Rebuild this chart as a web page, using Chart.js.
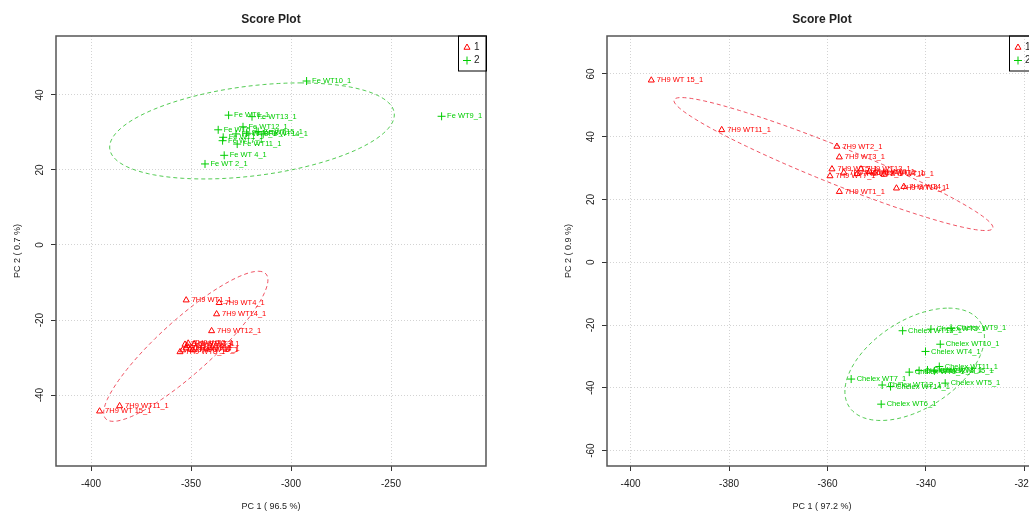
<!DOCTYPE html>
<html>
<head>
<meta charset="utf-8">
<title>Score Plot</title>
<script src="https://cdn.jsdelivr.net/npm/chart.js@4.4.1/dist/chart.umd.min.js"></script>
<style>
  html, body { margin: 0; padding: 0; background: #fff; overflow: hidden; }
  body { width: 1029px; height: 513px; position: relative; }
  .panel { position: absolute; top: 0; width: 514px; height: 513px; }
  #panelFe { left: 0; }
  #panelChelex { left: 551px; }
</style>
</head>
<body>
<div class="panel" id="panelFe"><canvas id="scoreFe"></canvas></div>
<div class="panel" id="panelChelex"><canvas id="scoreChelex"></canvas></div>
<script>
  // -------------------------
  // Data: 7H9 vs Fe
  // -------------------------
  const feXRange = [-417.5, -202.5];
  const feYRange = [-58.9, 55.7];
  const feXTicks = [-400, -350, -300, -250];
  const feYTicks = [-40, -20, 0, 20, 40];
  const feXTitle = "PC 1 ( 96.5 %)";
  const feYTitle = "PC 2 ( 0.7 %)";

  const fe7h9Names = ["7H9 WT1_1", "7H9 WT2_1", "7H9 WT3_1", "7H9 WT4_1", "7H9 WT5_1", "7H9 WT6_1", "7H9 WT7_1", "7H9 WT8_1",
    "7H9 WT9_1", "7H9 WT10_1", "7H9 WT11_1", "7H9 WT12_1", "7H9 WT13_1", "7H9 WT14_1", "7H9 WT 15_1"];
  const fe7h9X = [-352.4, -351.4, -348.5, -335.9, -351.9, -349.0, -354.2, -355.5, -352.5, -350.5, -385.7, -339.7, -353.0, -337.2, -395.7];
  const fe7h9Y = [-14.7, -26.2, -26.4, -15.4, -26.9, -28.0, -28.0, -28.5, -27.5, -27.8, -42.9, -22.9, -26.5, -18.4, -44.3];

  const feIronNames = ["Fe WT1_1", "Fe WT 2_1", "Fe WT3_1", "Fe WT 4_1", "Fe WT5_1", "Fe WT6_1", "Fe WT7_1", "Fe WT8_1",
    "Fe WT9_1", "Fe WT10_1", "Fe WT11_1", "Fe WT12_1", "Fe WT13_1", "Fe WT14_1", "Fe WT15_1"];
  const feIronX = [-333.9, -343.0, -327.5, -333.4, -336.4, -331.2, -334.2, -322.2, -224.7, -292.2, -326.9, -324.0, -319.5, -313.9, -316.4];
  const feIronY = [28.7, 21.6, 29.6, 23.9, 30.7, 34.6, 27.8, 29.8, 34.3, 43.7, 26.9, 31.5, 34.2, 29.6, 30.2];

  // confidence ellipses: centre, two conjugate semi-axis vectors (data units)
  const fe7h9Ellipse = { centre: [-352.6, -27.0], u: [36.3, 20.0], v: [19.2, 0] };
  const feIronEllipse = { centre: [-319.5, 30.4], u: [24.0, 12.8], v: [67.0, 0] };

  // -------------------------
  // Data: 7H9 vs Chelex
  // -------------------------
  const chXRange = [-404.8, -317.45];
  const chYRange = [-64.9, 72.1];
  const chXTicks = [-400, -380, -360, -340, -320];
  const chYTicks = [-60, -40, -20, 0, 20, 40, 60];
  const chXTitle = "PC 1 ( 97.2 %)";
  const chYTitle = "PC 2 ( 0.9 %)";

  const ch7h9Names = ["7H9 WT1_1", "7H9 WT2_1", "7H9 WT3_1", "7H9 WT4_1", "7H9 WT5_1", "7H9 WT6_1", "7H9 WT7_1", "7H9 WT8_1",
    "7H9 WT9_1", "7H9 WT10_1", "7H9 WT11_1", "7H9 WT12_1", "7H9 WT13_1", "7H9 WT14_1", "7H9 WT 15_1"];
  const ch7h9X = [-357.6, -358.1, -357.6, -344.5, -359.1, -356.7, -359.5, -354.0, -351.5, -348.5, -381.5, -350.4, -353.2, -346.0, -395.8];
  const ch7h9Y = [22.5, 36.9, 33.5, 24.1, 29.7, 28.6, 27.5, 28.2, 28.9, 28.0, 42.2, 28.4, 29.7, 23.6, 58.0];

  const chChelexNames = ["Chelex WT1_1", "Chelex WT2_1", "Chelex WT3_1", "Chelex WT4_1", "Chelex WT5_1", "Chelex WT6_1",
    "Chelex WT7_1", "Chelex WT8_1", "Chelex WT9_1", "Chelex WT10_1", "Chelex WT11_1", "Chelex WT12_1", "Chelex WT13_1",
    "Chelex WT14_1", "Chelex WT15_1"];
  const chChelexX = [-343.4, -341.4, -339.0, -340.1, -336.1, -349.1, -355.2, -339.7, -334.9, -337.1, -337.3, -348.9, -344.75, -347.2, -338.3];
  const chChelexY = [-35.0, -34.5, -21.3, -28.4, -38.5, -45.2, -37.2, -34.3, -21.0, -26.1, -33.2, -39.1, -21.8, -39.6, -34.6];

  const ch7h9Ellipse = { centre: [-358.8, 31.3], u: [32.4, -20.2], v: [0, 6.4] };
  const chChelexEllipse = { centre: [-342.3, -32.5], u: [6.87, 17.9], v: [12.4, 0] };

  const groupLabels = ["1", "2"];
  const plotTitle = "Score Plot";

  // -------------------------
  // Styling
  // -------------------------
  const FONT = '"Liberation Sans", Arial, Helvetica, sans-serif';
  const RED = "#ff0000";
  const GREEN = "#00cd00";
  const RED_DASH = "rgba(235,40,60,0.8)";
  const GREEN_DASH = "rgba(40,190,40,0.8)";
  const GRID = "#d3d3d3";
  const INK = "#222";

  function ellipseOutline(e, steps) {
    const pts = [];
    for (let i = 0; i <= steps; i++) {
      const t = (i / steps) * Math.PI * 2;
      pts.push({
        x: e.centre[0] + e.u[0] * Math.cos(t) + e.v[0] * Math.sin(t),
        y: e.centre[1] + e.u[1] * Math.cos(t) + e.v[1] * Math.sin(t),
      });
    }
    return pts;
  }

  function groupDataset(label, names, xs, ys, color, style, radius) {
    return {
      label: label,
      data: xs.map((v, i) => ({ x: v, y: ys[i] })),
      sampleNames: names,
      pointStyle: style,
      pointRadius: radius,
      pointBorderWidth: 1,
      borderColor: color,
      backgroundColor: "rgba(0,0,0,0)",
      showLine: false,
    };
  }

  function ellipseDataset(e, color) {
    return {
      data: ellipseOutline(e, 120),
      showLine: true,
      pointRadius: 0,
      borderColor: color,
      borderWidth: 1,
      borderDash: [4, 3],
      tension: 0,
      fill: false,
    };
  }

  // title, sample names, frame and legend drawn over the plot region
  const scoreDecor = {
    id: "scoreDecor",
    afterDatasetsDraw(chart) {
      const ctx = chart.ctx;
      ctx.save();
      ctx.font = "7.5px " + FONT;
      ctx.textAlign = "left";
      ctx.textBaseline = "middle";
      chart.data.datasets.forEach((ds, i) => {
        if (!ds.sampleNames) return;
        const meta = chart.getDatasetMeta(i);
        ctx.fillStyle = ds.borderColor;
        meta.data.forEach((pt, j) => {
          ctx.fillText(ds.sampleNames[j], pt.x + 5.5, pt.y);
        });
      });
      ctx.restore();
    },
    afterDraw(chart) {
      const ctx = chart.ctx;
      const a = chart.chartArea;
      ctx.save();

      // plot frame
      ctx.strokeStyle = "#555";
      ctx.lineWidth = 1.5;
      ctx.strokeRect(a.left, a.top, a.right - a.left, a.bottom - a.top);

      // title
      ctx.fillStyle = INK;
      ctx.font = "bold 12px " + FONT;
      ctx.textAlign = "center";
      ctx.textBaseline = "middle";
      ctx.fillText(plotTitle, (a.left + a.right) / 2, 20);

      // legend box in the top-right corner
      const boxW = 28, boxH = 35;
      const bx = a.right - boxW, by = a.top;
      ctx.strokeStyle = "#000";
      ctx.lineWidth = 1;
      ctx.strokeRect(bx + 0.5, by, boxW, boxH);
      const groups = chart.data.datasets.filter((d) => d.sampleNames);
      groups.forEach((ds, i) => {
        const y = by + 11.5 + i * 13;
        ctx.strokeStyle = ds.borderColor;
        ctx.fillStyle = "rgba(0,0,0,0)";
        ctx.lineWidth = 1;
        Chart.helpers.drawPoint(ctx, { pointStyle: ds.pointStyle, radius: ds.pointRadius, rotation: 0, borderWidth: 1 }, bx + 9, y);
        ctx.fillStyle = INK;
        ctx.font = "10px " + FONT;
        ctx.textAlign = "left";
        ctx.fillText(groupLabels[i], bx + 16, y);
      });
      ctx.restore();
    },
  };

  function makeScales(xRange, yRange, xTicks, yTicks, xTitle, yTitle) {
    const grid = {
      color: GRID,
      lineWidth: 1,
      drawTicks: true,
      tickLength: 5,
      tickColor: "#333",
      tickWidth: 1,
      tickBorderDash: [],
    };
    return {
      x: {
        type: "linear",
        position: "bottom",
        min: xRange[0],
        max: xRange[1],
        afterBuildTicks: (s) => { s.ticks = xTicks.map((v) => ({ value: v })); },
        afterFit: (s) => { s.height = 47; },
        grid: grid,
        border: { display: false, dash: [1, 2] },
        ticks: { font: { family: FONT, size: 10 }, color: INK, padding: 7, maxRotation: 0, autoSkip: false },
        title: { display: true, text: xTitle, font: { family: FONT, size: 9 }, color: INK, padding: { top: 0, bottom: 1 } },
      },
      y: {
        type: "linear",
        position: "left",
        min: yRange[0],
        max: yRange[1],
        afterBuildTicks: (s) => { s.ticks = yTicks.map((v) => ({ value: v })); },
        afterFit: (s) => { s.width = 56; },
        grid: grid,
        border: { display: false, dash: [1, 2] },
        ticks: {
          font: { family: FONT, size: 10 },
          color: INK,
          padding: 4,
          minRotation: 90,
          maxRotation: 90,
          crossAlign: "center",
          autoSkip: false,
        },
        title: { display: true, text: yTitle, font: { family: FONT, size: 9 }, color: INK, padding: { top: 12, bottom: 0 } },
      },
    };
  }

  function createScorePlot(canvasId, cfg) {
    const el = document.getElementById(canvasId);
    if (!el) return null;
    return new Chart(el.getContext("2d"), {
      type: "scatter",
      data: {
        datasets: [
          ellipseDataset(cfg.ellipses[0], RED_DASH),
          ellipseDataset(cfg.ellipses[1], GREEN_DASH),
          groupDataset(groupLabels[0], cfg.g1.names, cfg.g1.x, cfg.g1.y, RED, "triangle", 3.5),
          groupDataset(groupLabels[1], cfg.g2.names, cfg.g2.x, cfg.g2.y, GREEN, "cross", 4),
        ],
      },
      options: {
        responsive: true,
        maintainAspectRatio: false,
        animation: false,
        events: [],
        layout: { padding: { left: 0, right: 28, top: 36, bottom: 0 } },
        plugins: { legend: { display: false }, tooltip: { enabled: false }, title: { display: false } },
        scales: makeScales(cfg.xRange, cfg.yRange, cfg.xTicks, cfg.yTicks, cfg.xTitle, cfg.yTitle),
      },
      plugins: [scoreDecor],
    });
  }

  createScorePlot("scoreFe", {
    xRange: feXRange, yRange: feYRange, xTicks: feXTicks, yTicks: feYTicks, xTitle: feXTitle, yTitle: feYTitle,
    g1: { names: fe7h9Names, x: fe7h9X, y: fe7h9Y },
    g2: { names: feIronNames, x: feIronX, y: feIronY },
    ellipses: [fe7h9Ellipse, feIronEllipse],
  });

  createScorePlot("scoreChelex", {
    xRange: chXRange, yRange: chYRange, xTicks: chXTicks, yTicks: chYTicks, xTitle: chXTitle, yTitle: chYTitle,
    g1: { names: ch7h9Names, x: ch7h9X, y: ch7h9Y },
    g2: { names: chChelexNames, x: chChelexX, y: chChelexY },
    ellipses: [ch7h9Ellipse, chChelexEllipse],
  });
</script>
</body>
</html>
